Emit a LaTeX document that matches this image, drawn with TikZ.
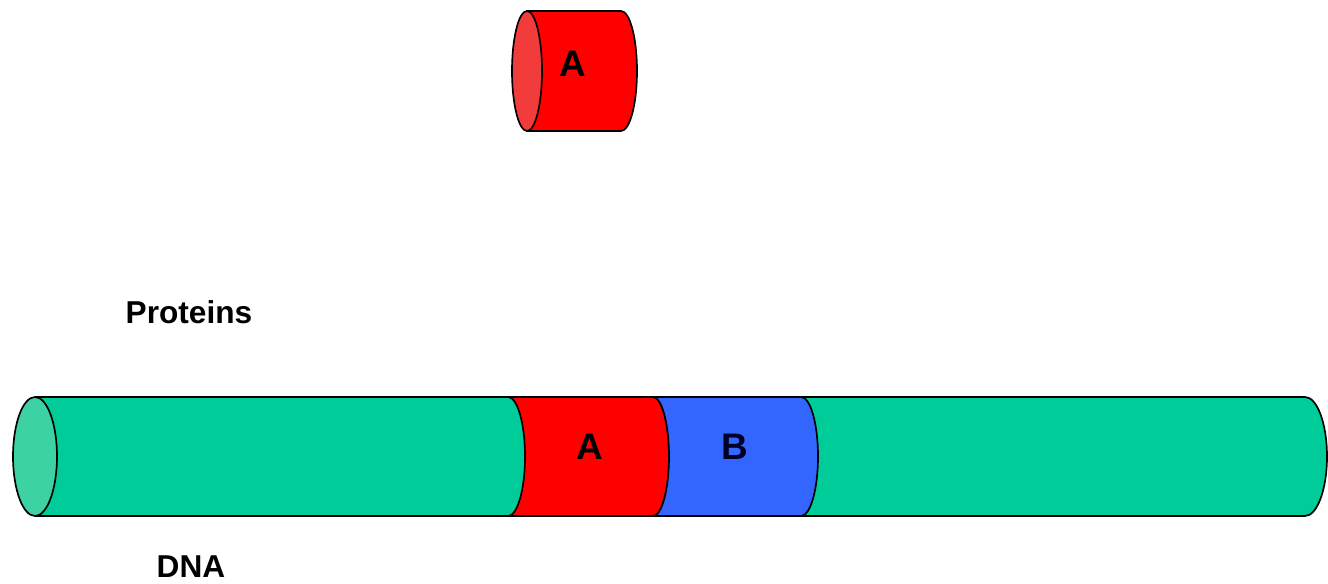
\documentclass[tikz,border=0pt]{standalone}
\usepackage{fontspec}
\setmainfont{Liberation Sans}
\usepackage{xcolor}
\definecolor{dnagreen}{HTML}{00CC99}
\definecolor{capgreen}{HTML}{3CD2A4}
\definecolor{protred}{HTML}{FF0000}
\definecolor{capred}{HTML}{F23C3C}
\definecolor{segblue}{HTML}{3366FF}

\begin{document}
\begin{tikzpicture}[x=.02cm,y=.02cm,
  body/.style={draw=black,line width=.95pt},
  lbl/.style={font=\fontsize{18}{21}\selectfont\bfseries},
  letter/.style={font=\fontsize{21}{25}\selectfont\bfseries}]
\useasboundingbox (0,0) rectangle (1328,583);
% the DNA strand
\fill[dnagreen] (35,186)--(1305,186)
  arc[start angle=90,end angle=-90,x radius=22,y radius=59.5]--(35,67)--cycle;
\draw[body] (35,186)--(1305,186)
  arc[start angle=90,end angle=-90,x radius=22,y radius=59.5]--(35,67);
\draw[body,fill=capgreen] (35,126.5) ellipse[x radius=22,y radius=59.5];
% bound proteins
\draw[body,fill=protred] (508,186)--(653,186)
  arc[start angle=90,end angle=-90,x radius=16,y radius=59.5]--(508,67)
  arc[start angle=-90,end angle=90,x radius=17,y radius=59.5]--cycle;
\draw[body,fill=segblue] (653,186)--(801,186)
  arc[start angle=90,end angle=-90,x radius=17,y radius=59.5]--(653,67)
  arc[start angle=-90,end angle=90,x radius=16,y radius=59.5]--cycle;
\node[letter] (boundA) at (590,136) {A};
\node[letter,text=black!85!blue] (boundB) at (735,136) {B};
% free protein
\draw[body,fill=protred] (527,572)--(621,572)
  arc[start angle=90,end angle=-90,x radius=16,y radius=60]--(527,452)--cycle;
\draw[body,fill=capred] (527,512) ellipse[x radius=15,y radius=60];
\node[letter] (freeA) at (573,519) {A};
\node[lbl] (proteins) at (189,271) {Proteins};
\node[lbl] (dna) at (191,16) {DNA};
\end{tikzpicture}
\end{document}
